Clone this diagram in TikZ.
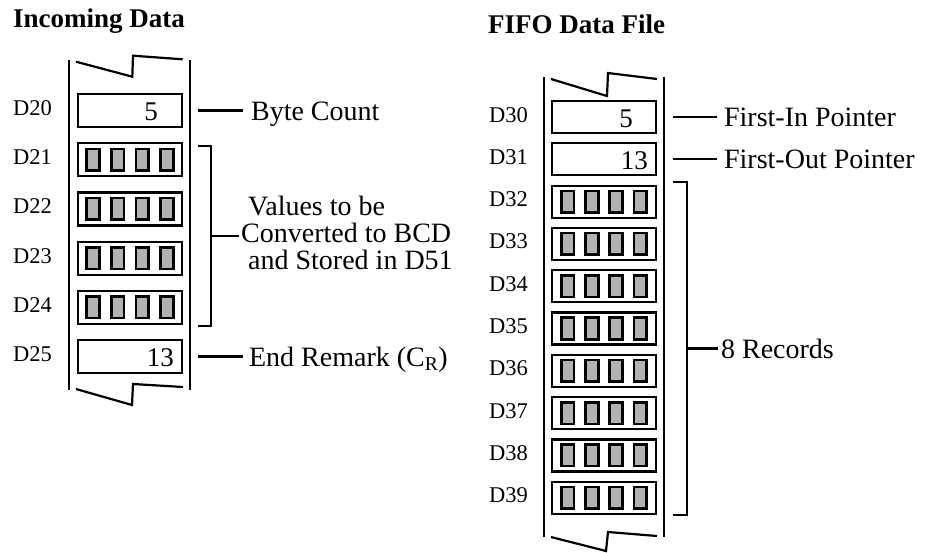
\documentclass[tikz,border=0pt]{standalone}
\usepackage{fontspec}
\setmainfont{Liberation Serif}
\begin{document}
\begin{tikzpicture}[x=1pt,y=-1pt,
  frame/.style={line width=2.2pt, line join=miter},
  cell/.style={draw, line width=2.2pt, minimum width=104pt, inner sep=0pt},
  digit/.style={draw, line width=2.5pt, fill=black!30, minimum width=12.8pt, minimum height=21.6pt, inner sep=0pt},
  reg/.style={font=\fontsize{22.5}{24}\selectfont, anchor=base east, inner sep=0pt},
  lbl/.style={font=\fontsize{28}{27}\selectfont, anchor=base west, inner sep=0pt},
  num/.style={font=\fontsize{27}{27}\selectfont, anchor=base east, inner sep=0pt},
  ttl/.style={font=\fontsize{27}{27}\selectfont\bfseries, anchor=base west, inner sep=0pt},
  lead/.style={line width=2.2pt, line join=miter}
]
\useasboundingbox (0,0) rectangle (933,552);

% titles
\node[ttl] (t1) at (13,27) {Incoming Data};
\node[ttl] (t2) at (488,33) {FIFO Data File};

% ---------- left stack ----------
\draw[frame] (69,60) -- (69,390);
\draw[frame] (190,60) -- (190,390);
\draw[frame] (76,61.7) -- (132.3,76.7) -- (133,55.7) -- (182.7,59.3);
\draw[frame] (76,389) -- (132,405) -- (133,384) -- (183,387);

\foreach \i/\n in {0/20,1/21,2/22,3/23,4/24,5/25} {
  \pgfmathsetmacro\yy{110.5+49.2*\i}
  \node[cell, minimum height=33pt] (L\n) at (130,\yy) {};
  \node[reg] (RL\n) at (52,\yy+5) {D\n};
}
\foreach \n in {21,22,23,24} {
  \foreach \j in {-37,-12.3,12.3,37}
    \node[digit] at ([xshift=\j pt]L\n.center) {};
}
\node[num] (v20) at ([xshift=-25pt,yshift=-10pt]L20.east) {5};
\node[num] (v25) at ([xshift=-9pt,yshift=-10pt]L25.east) {13};

% left leads
\coordinate (a20) at (198,110.5);
\draw[lead] (a20) -- ++(45,0) node[lbl, xshift=7pt, yshift=-9.5pt] (bc) {Byte Count};
\coordinate (a25) at (198,356.5);
\draw[lead] (a25) -- ++(45,0) node[lbl, xshift=5pt, yshift=-9.5pt] (er) {End Remark (C\textsubscript{R})};
\coordinate (b1) at (198,146);
\coordinate (b2) at (198,326);
\draw[lead] (b1) -- (211,146) -- (211,326) -- (b2);
\coordinate (bm) at (211,236);
\node[lbl, align=left, anchor=north west] (vals) at (241,196)
  {\hspace*{7pt}Values to be\\Converted to BCD\\\hspace*{7pt}and Stored in D51};
\draw[lead] (bm) -- (239,236);

% ---------- right stack ----------
\draw[frame] (544,77) -- (544,537);
\draw[frame] (664,77) -- (664,537);
\draw[frame] (551,79) -- (607,96) -- (608,73) -- (657,79);
\draw[frame] (551,537) -- (606,551) -- (608,532) -- (657,536);

\foreach \i/\n in {0/30,1/31,2/32,3/33,4/34,5/35,6/36,7/37,8/38,9/39} {
  \pgfmathsetmacro\yy{117+42.3*\i}
  \node[cell, minimum height=32pt] (R\n) at (604,\yy) {};
  \node[reg] (RR\n) at (528,\yy+5) {D\n};
}
\foreach \n in {32,33,34,35,36,37,38,39} {
  \foreach \j in {-36.3,-12.1,12.1,36.3}
    \node[digit] at ([xshift=\j pt]R\n.center) {};
}
\node[num] (v30) at ([xshift=-24pt,yshift=-10pt]R30.east) {5};
\node[num] (v31) at ([xshift=-9pt,yshift=-10pt]R31.east) {13};

% right leads
\coordinate (c30) at (673,117);
\draw[lead] (c30) -- ++(44,0) node[lbl, xshift=6pt, yshift=-9.5pt] (fi) {First-In Pointer};
\coordinate (c31) at (673,159.3);
\draw[lead] (c31) -- ++(44,0) node[lbl, xshift=6pt, yshift=-9.5pt] (fo) {First-Out Pointer};
\coordinate (d1) at (673,182);
\coordinate (d2) at (673,515);
\draw[lead] (d1) -- (687,182) -- (687,515) -- (d2);
\coordinate (dm) at (687,348.5);
\draw[lead] (dm) -- ++(31,0) node[lbl, xshift=2pt, yshift=-9.5pt] (rec) {8 Records};
\end{tikzpicture}
\end{document}
